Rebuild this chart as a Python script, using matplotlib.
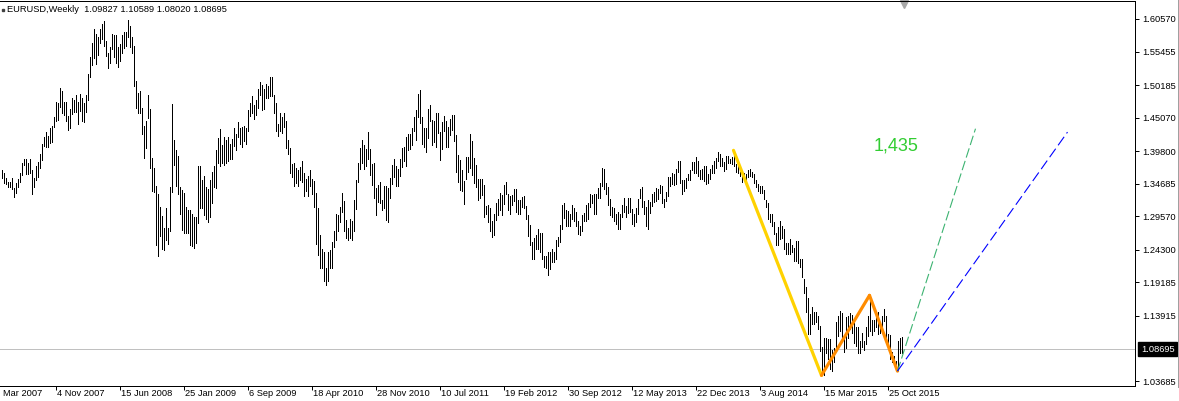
import numpy as np
import pandas as pd
import matplotlib
matplotlib.use("Agg")
import matplotlib.pyplot as plt
import matplotlib.transforms as mtransforms
from matplotlib.lines import Line2D

plt.rcParams['font.family'] = ['Liberation Sans', 'DejaVu Sans']
plt.rcParams['lines.scale_dashes'] = False

# Chart header: symbol and last bar (open, high, low, close)
symbol = "EURUSD,Weekly"
last_bar = [1.09827, 1.10589, 1.08020, 1.08695]
first_week = "2007-04-29"

# Weekly highs / lows, one list per year
high_2007 = [1.3680, 1.3640, 1.3560, 1.3500, 1.3500, 1.3555, 1.3400, 1.3480, 1.3535, 1.3640,
             1.3790, 1.3850, 1.3852, 1.3800, 1.3850, 1.3690, 1.3560, 1.3740, 1.3810, 1.3930,
             1.4100, 1.4200, 1.4285, 1.4220, 1.4345, 1.4370, 1.4510, 1.4750, 1.4740, 1.4966,
             1.4930, 1.4760, 1.4760, 1.4540, 1.4650, 1.4810]
low_2007 = [1.3565, 1.3480, 1.3460, 1.3410, 1.3410, 1.3385, 1.3260, 1.3325, 1.3420, 1.3490,
            1.3600, 1.3760, 1.3620, 1.3620, 1.3640, 1.3300, 1.3410, 1.3530, 1.3575, 1.3720,
            1.3835, 1.4060, 1.4050, 1.4050, 1.4110, 1.4130, 1.4355, 1.4455, 1.4470, 1.4680,
            1.4580, 1.4550, 1.4460, 1.4310, 1.4350, 1.4570]

high_2008 = [1.4780, 1.4870, 1.4760, 1.4875, 1.4810, 1.4740, 1.4870, 1.5200, 1.5460, 1.5680,
             1.5905, 1.5820, 1.5770, 1.5895, 1.5980, 1.6019, 1.5710, 1.5530, 1.5620, 1.5815,
             1.5810, 1.5805, 1.5620, 1.5660, 1.5800, 1.5850, 1.5850, 1.6038, 1.5945, 1.5780,
             1.5630, 1.5080, 1.4900, 1.4920, 1.4660, 1.4380, 1.4460, 1.4865, 1.4650, 1.3880,
             1.3710, 1.3440, 1.3300, 1.3110, 1.2965, 1.2770, 1.3080, 1.2780, 1.3420, 1.4720,
             1.4150, 1.4000]
low_2008 = [1.4590, 1.4600, 1.4400, 1.4605, 1.4450, 1.4440, 1.4590, 1.4780, 1.5150, 1.5335,
            1.5450, 1.5350, 1.5490, 1.5680, 1.5735, 1.5635, 1.5470, 1.5290, 1.5370, 1.5580,
            1.5460, 1.5370, 1.5300, 1.5400, 1.5520, 1.5600, 1.5625, 1.5770, 1.5615, 1.5520,
            1.5000, 1.4660, 1.4580, 1.4585, 1.4255, 1.3880, 1.4030, 1.4500, 1.3720, 1.3350,
            1.3340, 1.2510, 1.2330, 1.2640, 1.2440, 1.2420, 1.2590, 1.2520, 1.2720, 1.3340,
            1.3760, 1.3430]

high_2009 = [1.3900, 1.3420, 1.3370, 1.3330, 1.3110, 1.3060, 1.3060, 1.2990, 1.2940, 1.2950,
             1.3740, 1.3740, 1.3520, 1.3590, 1.3420, 1.3380, 1.3520, 1.3650, 1.3740, 1.4000,
             1.4180, 1.4330, 1.4080, 1.4200, 1.4150, 1.4200, 1.4100, 1.4170, 1.4340, 1.4250,
             1.4445, 1.4340, 1.4360, 1.4380, 1.4340, 1.4630, 1.4740, 1.4845, 1.4700, 1.4780,
             1.4950, 1.5060, 1.5020, 1.4950, 1.5030, 1.5000, 1.5145, 1.5140, 1.4860, 1.4740,
             1.4410, 1.4580]
low_2009 = [1.3300, 1.3000, 1.2740, 1.2700, 1.2690, 1.2700, 1.2500, 1.2490, 1.2455, 1.2540,
            1.2850, 1.3080, 1.3080, 1.2980, 1.2910, 1.2870, 1.2950, 1.3160, 1.3420, 1.3400,
            1.3790, 1.3740, 1.3790, 1.3760, 1.3800, 1.3820, 1.3850, 1.3860, 1.4060, 1.4000,
            1.4200, 1.4100, 1.4040, 1.4140, 1.4100, 1.4300, 1.4530, 1.4580, 1.4480, 1.4550,
            1.4660, 1.4860, 1.4620, 1.4640, 1.4810, 1.4820, 1.4840, 1.4840, 1.4580, 1.4300,
            1.4220, 1.4300]

high_2010 = [1.4510, 1.4580, 1.4450, 1.4160, 1.4030, 1.3780, 1.3790, 1.3720, 1.3690, 1.3735,
             1.3820, 1.3630, 1.3540, 1.3590, 1.3690, 1.3540, 1.3510, 1.3330, 1.3090, 1.2670,
             1.2440, 1.2390, 1.2150, 1.2390, 1.2430, 1.2560, 1.2720, 1.2990, 1.2980, 1.3110,
             1.3330, 1.3190, 1.2900, 1.2780, 1.2920, 1.2890, 1.3220, 1.3520, 1.3790, 1.4030,
             1.4160, 1.4080, 1.4020, 1.4282, 1.4010, 1.3780, 1.3790, 1.3400, 1.3450, 1.3500,
             1.3220, 1.3430]
low_2010 = [1.4260, 1.4360, 1.4030, 1.3930, 1.3640, 1.3580, 1.3440, 1.3480, 1.3440, 1.3530,
            1.3500, 1.3270, 1.3360, 1.3280, 1.3440, 1.3300, 1.3110, 1.2520, 1.2350, 1.2145,
            1.2140, 1.1940, 1.1876, 1.1940, 1.2150, 1.2150, 1.2470, 1.2580, 1.2730, 1.2860,
            1.3030, 1.2730, 1.2620, 1.2590, 1.2620, 1.2590, 1.2730, 1.3070, 1.3490, 1.3700,
            1.3800, 1.3700, 1.3740, 1.3850, 1.3610, 1.3445, 1.3250, 1.2970, 1.3180, 1.3170,
            1.3060, 1.3080]

high_2011 = [1.3430, 1.3400, 1.3560, 1.3760, 1.3860, 1.3740, 1.3700, 1.3860, 1.4030, 1.4040,
             1.4200, 1.4250, 1.4250, 1.4350, 1.4520, 1.4620, 1.4880, 1.4940, 1.4520, 1.4350,
             1.4340, 1.4650, 1.4700, 1.4470, 1.4450, 1.4580, 1.4580, 1.4280, 1.4440, 1.4530,
             1.4450, 1.4360, 1.4480, 1.4550, 1.4550, 1.4230, 1.3920, 1.3840, 1.3680, 1.3510,
             1.3890, 1.3890, 1.4245, 1.4140, 1.3880, 1.3770, 1.3550, 1.3550, 1.3550, 1.3450,
             1.3120, 1.3130]
low_2011 = [1.2900, 1.2860, 1.3250, 1.3460, 1.3580, 1.3430, 1.3430, 1.3590, 1.3730, 1.3830,
            1.3750, 1.4000, 1.4010, 1.4080, 1.4300, 1.4160, 1.4520, 1.4430, 1.4100, 1.4050,
            1.3970, 1.4180, 1.4460, 1.4080, 1.4120, 1.4050, 1.4270, 1.3840, 1.4010, 1.4290,
            1.4050, 1.4050, 1.4240, 1.4320, 1.4140, 1.3660, 1.3500, 1.3370, 1.3360, 1.3145,
            1.3540, 1.3650, 1.3710, 1.3610, 1.3480, 1.3420, 1.3210, 1.3250, 1.3290, 1.2950,
            1.2990, 1.2860]

high_2012 = [1.3080, 1.2880, 1.3000, 1.3160, 1.3230, 1.3320, 1.3290, 1.3450, 1.3490, 1.3300,
             1.3280, 1.3290, 1.3385, 1.3380, 1.3210, 1.3220, 1.3260, 1.3280, 1.3120, 1.2970,
             1.2820, 1.2560, 1.2620, 1.2670, 1.2750, 1.2690, 1.2690, 1.2330, 1.2330, 1.2390,
             1.2390, 1.2440, 1.2390, 1.2590, 1.2630, 1.2820, 1.3130, 1.3170, 1.3050, 1.3040,
             1.3000, 1.3140, 1.3080, 1.3020, 1.2880, 1.2800, 1.2970, 1.3010, 1.3130, 1.3160,
             1.3300, 1.3290, 1.3300]
low_2012 = [1.2720, 1.2624, 1.2660, 1.2900, 1.2980, 1.3050, 1.2970, 1.3150, 1.3310, 1.3050,
            1.3000, 1.3140, 1.3200, 1.3030, 1.3000, 1.3000, 1.3100, 1.3090, 1.2910, 1.2640,
            1.2500, 1.2290, 1.2290, 1.2440, 1.2450, 1.2400, 1.2290, 1.2160, 1.2150, 1.2042,
            1.2130, 1.2240, 1.2240, 1.2290, 1.2490, 1.2560, 1.2760, 1.2930, 1.2800, 1.2800,
            1.2800, 1.2910, 1.2880, 1.2810, 1.2680, 1.2660, 1.2720, 1.2880, 1.2880, 1.2910,
            1.3100, 1.3160, 1.3000]

high_2013 = [1.3310, 1.3400, 1.3480, 1.3711, 1.3700, 1.3480, 1.3420, 1.3230, 1.3110, 1.3080,
             1.3000, 1.3020, 1.3000, 1.3140, 1.3240, 1.3120, 1.3240, 1.3240, 1.3070, 1.3000,
             1.3080, 1.3230, 1.3390, 1.3420, 1.3200, 1.3100, 1.3210, 1.3180, 1.3300, 1.3340,
             1.3400, 1.3390, 1.3450, 1.3430, 1.3230, 1.3340, 1.3570, 1.3570, 1.3640, 1.3620,
             1.3700, 1.3830, 1.3830, 1.3530, 1.3530, 1.3560, 1.3620, 1.3680, 1.3810, 1.3810,
             1.3893, 1.3830]
low_2013 = [1.2990, 1.3250, 1.3250, 1.3440, 1.3380, 1.3300, 1.3140, 1.2970, 1.2950, 1.2880,
            1.2840, 1.2750, 1.2750, 1.2950, 1.3030, 1.2950, 1.3010, 1.3020, 1.2840, 1.2800,
            1.2860, 1.2990, 1.3240, 1.3100, 1.2990, 1.2800, 1.2755, 1.3010, 1.3120, 1.3180,
            1.3200, 1.3230, 1.3320, 1.3170, 1.3100, 1.3200, 1.3270, 1.3440, 1.3470, 1.3450,
            1.3470, 1.3660, 1.3480, 1.3300, 1.3350, 1.3400, 1.3520, 1.3520, 1.3680, 1.3630,
            1.3640, 1.3590]

high_2014 = [1.3690, 1.3700, 1.3740, 1.3740, 1.3620, 1.3700, 1.3770, 1.3825, 1.3880, 1.3967,
             1.3940, 1.3880, 1.3810, 1.3900, 1.3900, 1.3850, 1.3890, 1.3993, 1.3780, 1.3740,
             1.3660, 1.3670, 1.3640, 1.3620, 1.3690, 1.3700, 1.3650, 1.3620, 1.3530, 1.3460,
             1.3440, 1.3430, 1.3370, 1.3220, 1.3170, 1.2990, 1.2990, 1.2860, 1.2700, 1.2790,
             1.2890, 1.2810, 1.2760, 1.2540, 1.2530, 1.2600, 1.2500, 1.2460, 1.2570, 1.2570,
             1.2290, 1.2290]
low_2014 = [1.3550, 1.3540, 1.3510, 1.3470, 1.3480, 1.3550, 1.3640, 1.3640, 1.3720, 1.3830,
            1.3750, 1.3750, 1.3670, 1.3700, 1.3790, 1.3790, 1.3780, 1.3740, 1.3650, 1.3640,
            1.3590, 1.3500, 1.3530, 1.3500, 1.3580, 1.3590, 1.3580, 1.3480, 1.3420, 1.3360,
            1.3330, 1.3330, 1.3230, 1.3110, 1.2920, 1.2860, 1.2810, 1.2680, 1.2500, 1.2500,
            1.2600, 1.2610, 1.2440, 1.2360, 1.2360, 1.2360, 1.2390, 1.2250, 1.2250, 1.2220,
            1.2160, 1.2000]

high_2015 = [1.1970, 1.1850, 1.1680, 1.1420, 1.1530, 1.1450, 1.1450, 1.1390, 1.1240, 1.0900,
             1.1040, 1.1050, 1.1030, 1.1030, 1.0850, 1.0880, 1.1290, 1.1390, 1.1466, 1.1440,
             1.1060, 1.1380, 1.1390, 1.1440, 1.1410, 1.1280, 1.1210, 1.1210, 1.1000, 1.1130,
             1.1000, 1.1210, 1.1390, 1.1714, 1.1330, 1.1330, 1.1460, 1.1460, 1.1290, 1.1390,
             1.1495, 1.1390, 1.1110, 1.1090, 1.0830, 1.0760, 1.0690, 1.0990, 1.1040, 1.10589]
low_2015 = [1.1750, 1.1460, 1.1100, 1.1100, 1.1270, 1.1260, 1.1300, 1.1180, 1.0840, 1.0457,
            1.0462, 1.0810, 1.0710, 1.0560, 1.0520, 1.0660, 1.0850, 1.1080, 1.1160, 1.0990,
            1.0820, 1.0890, 1.1050, 1.1180, 1.1130, 1.0960, 1.0920, 1.0810, 1.0810, 1.0910,
            1.0850, 1.0950, 1.1080, 1.1150, 1.1090, 1.1150, 1.1220, 1.1110, 1.1130, 1.1150,
            1.1310, 1.1020, 1.0900, 1.0710, 1.0670, 1.0620, 1.0570, 1.0524, 1.0810, 1.08020]

# time scale labels (the first one is cut at the chart's left edge)
tick_dates = ["2007-03-25", "2007-11-04", "2008-06-15", "2009-01-25", "2009-09-06",
              "2010-04-18", "2010-11-28", "2011-07-10", "2012-02-19", "2012-09-30",
              "2013-05-12", "2013-12-22", "2014-08-03", "2015-03-15", "2015-10-25"]
tick_labels = ["Mar 2007", "4 Nov 2007", "15 Jun 2008", "25 Jan 2009", "6 Sep 2009",
               "18 Apr 2010", "28 Nov 2010", "10 Jul 2011", "19 Feb 2012", "30 Sep 2012",
               "12 May 2013", "22 Dec 2013", "3 Aug 2014", "15 Mar 2015", "25 Oct 2015"]
price_ticks = [1.60570, 1.55455, 1.50185, 1.45070, 1.39800, 1.34685,
               1.29570, 1.24300, 1.19185, 1.13915, 1.03685]

# zigzag swing points and projection lines
zigzag_dates = ["2014-05-04", "2015-03-08", "2015-08-23", "2015-11-29"]
zigzag_prices = [1.3993, 1.0457, 1.1714, 1.0524]
zigzag_colors = ["#ffd200", "#ff8c00", "#ff8c00"]
green_dates = ["2015-11-29", "2016-08-28"]
green_prices = [1.0524, 1.4333]
blue_dates = ["2015-11-29", "2017-07-16"]
blue_prices = [1.0524, 1.4280]
target_text = "1,435"
target_date = "2015-09-06"
target_price = 1.3985

highs = (high_2007 + high_2008 + high_2009 + high_2010 + high_2011 +
         high_2012 + high_2013 + high_2014 + high_2015)
lows = (low_2007 + low_2008 + low_2009 + low_2010 + low_2011 +
        low_2012 + low_2013 + low_2014 + low_2015)
weeks = pd.date_range(first_week, periods=len(highs), freq="W-SUN")
start = weeks[0]


def week_pos(d):
    return (pd.Timestamp(d) - start).days / 7.0


W, H = 1179, 401
fig = plt.figure(figsize=(W / 100, H / 100), dpi=100)
ax = fig.add_axes([0, (H - 385.5) / H, 1135 / W, 384.5 / H])

# current price line
close = last_bar[3]
ax.axhline(close, color="#c0c0c0", lw=0.72, zorder=0.5, antialiased=False)

# bars
x = np.arange(len(highs))
ax.vlines(x, lows, highs, colors="black", linewidth=0.72, antialiased=False, zorder=2)

# zigzag
zx = [week_pos(d) for d in zigzag_dates]
for k in range(len(zx) - 1):
    ax.plot(zx[k:k + 2], zigzag_prices[k:k + 2], color=zigzag_colors[k], lw=2.3,
            solid_capstyle="round", zorder=3)

ax.plot([week_pos(d) for d in green_dates], green_prices, color="#3cb371", lw=0.8,
        dashes=(7, 2.5), zorder=3)
ax.plot([week_pos(d) for d in blue_dates], blue_prices, color="#0000ff", lw=0.8,
        dashes=(7.5, 3), zorder=3)
ax.text(week_pos(target_date), target_price, target_text, color="#32cd32",
        fontsize=13, ha="left", va="baseline")

# axes look
for side in ["top", "right", "bottom"]:
    ax.spines[side].set_linewidth(0.72)
    ax.spines[side].set_color("black")
ax.spines["left"].set_visible(False)

ax.yaxis.tick_right()
ax.set_yticks(price_ticks)
ax.set_yticklabels([f"{v:.5f}" for v in price_ticks])
ax.tick_params(axis="y", direction="out", length=3, width=0.72, pad=2, labelsize=6.7)

tick_pos = [week_pos(d) for d in tick_dates]
ax.set_xticks(tick_pos)
ax.set_xticklabels([])
ax.tick_params(axis="x", direction="out", length=3, width=0.72)

# limits last, so the ticks do not widen them
ppp = (price_ticks[0] - price_ticks[-1]) / 362.0
ax.set_xlim(-0.75, -0.75 + 1135 / 2.0)
ax.set_ylim(price_ticks[-1] - 4.5 * ppp, price_ticks[-1] + 380 * ppp)

lab_trans = mtransforms.offset_copy(ax.get_xaxis_transform(), fig=fig, x=1.5, y=-3.5, units="dots")
x0 = ax.get_xlim()[0]
for p, lab in zip(tick_pos, tick_labels):
    if p < x0:
        # label whose tick is off the chart: only its tail shows at the edge
        ax.text(0.0, 0, lab, ha="left", va="top", fontsize=6.7, clip_on=False,
                transform=mtransforms.offset_copy(ax.transAxes, fig=fig, x=3, y=-3.5, units="dots"))
    else:
        ax.text(p, 0, lab, transform=lab_trans, ha="left", va="top",
                fontsize=6.7, clip_on=False)

# last price box on the price scale
box_trans = mtransforms.offset_copy(ax.get_yaxis_transform(), fig=fig, x=6, y=0, units="dots")
ax.text(1.0, close, f"{close:.5f}", transform=box_trans, color="white", fontsize=6.7,
        ha="left", va="center", clip_on=False,
        bbox=dict(boxstyle="square,pad=0.3", fc="black", ec="black"))

# chart shift marker
ax.plot([len(highs)], [1 - 3 / 384.5], marker="v", ms=6, color="#a8a8a8",
        transform=ax.get_xaxis_transform(), clip_on=False)

# header
fig.text(7 / W, 1 - 9 / H, symbol + "  " + " ".join(f"{v:.5f}" for v in last_bar),
         fontsize=6.7, ha="left", va="center")
fig.add_artist(Line2D([2.5 / W], [1 - 10 / H], marker="s", ms=1.6, color="#404040"))
fig.add_artist(Line2D([1177.5 / W] * 2, [1 - 387 / H, 1], color="#a0a0a0", lw=0.72))

fig.savefig("out.png", dpi=100)
